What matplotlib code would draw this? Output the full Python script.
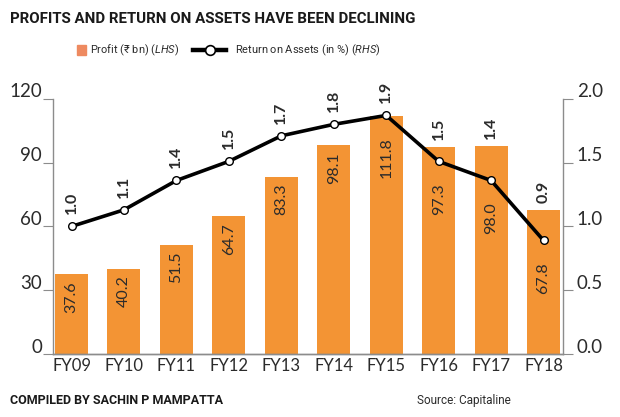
import numpy as np
import matplotlib.pyplot as plt
from matplotlib import font_manager
from matplotlib.patches import Rectangle
from matplotlib.lines import Line2D
from matplotlib.transforms import ScaledTranslation

years = ["FY09", "FY10", "FY11", "FY12", "FY13", "FY14", "FY15", "FY16", "FY17", "FY18"]
profit = [37.6, 40.2, 51.5, 64.7, 83.3, 98.1, 111.8, 97.3, 98.0, 67.8]
roa = [1.0, 1.13, 1.36, 1.51, 1.71, 1.8, 1.87, 1.51, 1.36, 0.89]
left_ticks = [0, 30, 60, 90, 120]
right_ticks = [0.0, 0.5, 1.0, 1.5, 2.0]

names = {f.name for f in font_manager.fontManager.ttflist}
narrow = "Roboto" if "Roboto" in names else "DejaVu Sans"
body = "Lato" if "Lato" in names else "DejaVu Sans"

plt.rcParams['font.family'] = [body, 'DejaVu Sans']
plt.rcParams['mathtext.fontset'] = 'custom'
plt.rcParams['mathtext.it'] = narrow + ':italic'
plt.rcParams['mathtext.rm'] = narrow

bar_color = "#F39434"
text_color = "#2b2b2b"
axis_grey = "#8c8c8c"

W, H = 620, 417
fig = plt.figure(figsize=(6.2, 4.17), dpi=100)
ax = fig.add_axes([0.0855, 0.151, 0.8225, 0.612])
ax2 = ax.twinx()
ax2.set_zorder(ax.get_zorder() + 1)
ax.patch.set_visible(False)

x = np.arange(len(years))
ax.bar(x, profit, width=0.63, color=bar_color, zorder=2)
ax.set_xlim(-0.353, 9.37)
ax.set_ylim(0, 120)
ax2.set_ylim(0, 2)

# bar labels: just under the bar top, or pushed under the line where it crosses the bar
px = 255 / 120
for i, v in enumerate(profit):
    line_y = roa[i] * 60
    top = v - 7 / px
    if line_y < v + 5 / px:
        top = min(top, line_y - 22 / px)
    ax.text(x[i], top, f"{v:.1f}", rotation=90, ha="center", va="top",
            fontsize=11.5, color=text_color)

ax2.plot(x, roa, color="black", lw=2.6, marker="o", ms=5.5,
         mfc="white", mec="black", mew=1.0, zorder=3, clip_on=False)
for i, v in enumerate(roa):
    base = max(v + 0.094, profit[i] / 60 + 0.055)
    ax2.text(x[i], base, f"{v:.1f}", rotation=90, ha="center", va="bottom",
             fontsize=11.5, fontweight="bold", color=text_color)

for a in (ax, ax2):
    a.spines["top"].set_visible(False)
    for s in ("left", "right", "bottom"):
        a.spines[s].set_color(axis_grey)
        a.spines[s].set_linewidth(1.0)

ax.spines["right"].set_visible(False)
ax2.spines["left"].set_visible(False)

ax.set_xticks(x)
ax.set_xticklabels(years, fontsize=12, color=text_color)
ax.tick_params(axis="x", length=0, pad=3)
ax.set_yticks(left_ticks)
ax.set_yticklabels([str(t) for t in left_ticks], fontsize=13.5, color=text_color)
ax.tick_params(axis="y", length=7, color=axis_grey, pad=1)
ax2.set_yticks(right_ticks)
ax2.set_yticklabels([f"{t:.1f}" for t in right_ticks], fontsize=13.5, color=text_color)
ax2.tick_params(axis="y", length=7, color=axis_grey, pad=3)

shift = ScaledTranslation(0, 6 / 72, fig.dpi_scale_trans)
for lab in ax.get_yticklabels() + ax2.get_yticklabels():
    lab.set_transform(lab.get_transform() + shift)

fig.text(0.016, 0.972, "PROFITS AND RETURN ON ASSETS HAVE BEEN DECLINING",
         family=[narrow, 'DejaVu Sans'], fontweight="bold", fontsize=10.8,
         color="#1a1a1a", ha="left", va="top")

# legend, drawn by hand
ly = 1 - 50 / H
fig.patches.append(Rectangle((77 / W, ly - 5 / H), 9 / W, 10 / H, color="#EE8A60",
                             transform=fig.transFigure))
fig.text(90 / W, ly, r"Profit (₹ bn) $\mathit{(LHS)}$", family=[narrow, 'DejaVu Sans'],
         fontsize=7.9, color=text_color, ha="left", va="center")
fig.lines.append(Line2D([193 / W, 226 / W], [ly, ly], color="black", lw=3.2,
                        transform=fig.transFigure))
fig.lines.append(Line2D([209.5 / W], [ly], color="black", marker="o", ms=7, mfc="white",
                        mec="black", mew=1.2, transform=fig.transFigure))
fig.text(235 / W, ly, r"Return on Assets (in %) $\mathit{(RHS)}$", family=[narrow, 'DejaVu Sans'],
         fontsize=7.9, color=text_color, ha="left", va="center")

fig.text(0.016, 0.04, "COMPILED BY SACHIN P MAMPATTA", family=[narrow, 'DejaVu Sans'],
         fontweight="bold", fontsize=9, color="#1a1a1a", ha="left", va="center")
fig.text(0.823, 0.04, "Source: Capitaline", family=[narrow, 'DejaVu Sans'],
         fontsize=8.5, color=text_color, ha="right", va="center")

fig.savefig("out.png", dpi=100)
